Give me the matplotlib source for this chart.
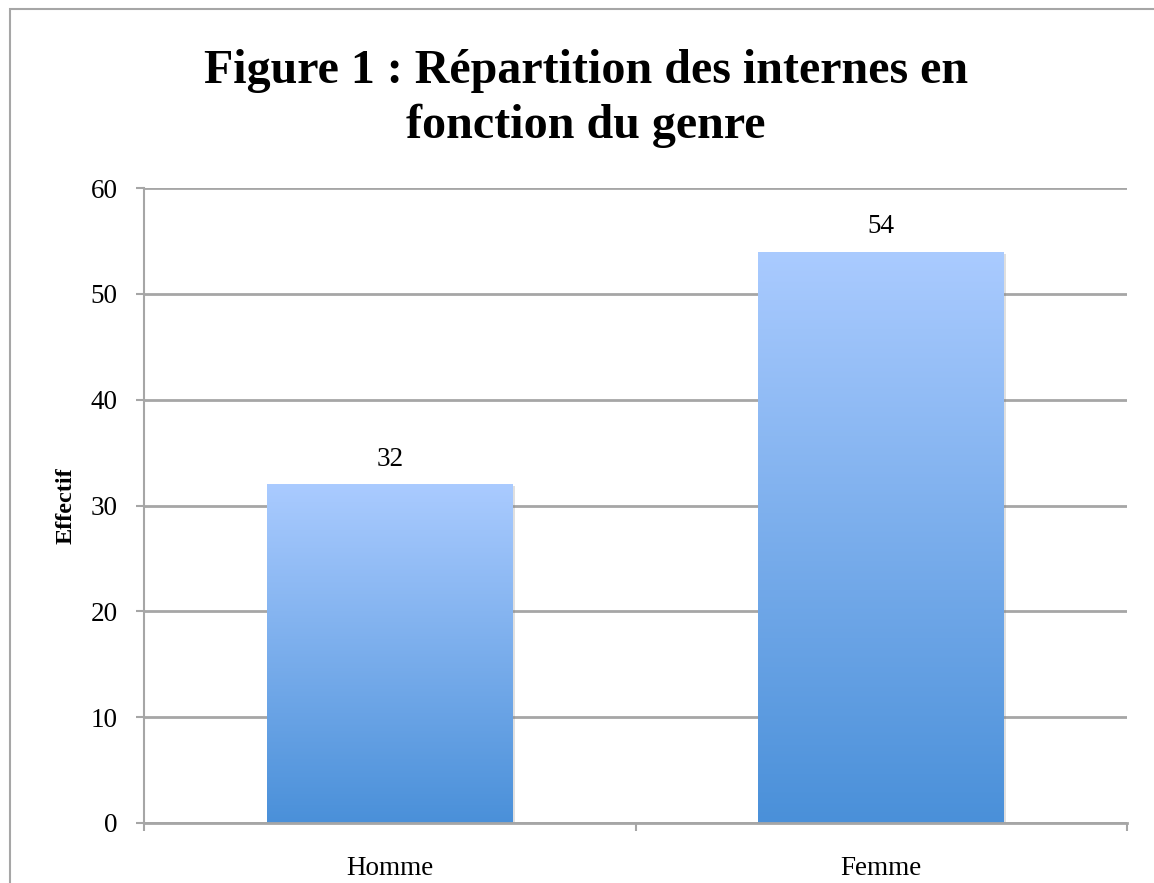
import numpy as np
import matplotlib.pyplot as plt
from matplotlib.patches import Rectangle
from matplotlib.colors import LinearSegmentedColormap
import matplotlib.patheffects as pe

# Data
categories = ["Homme", "Femme"]
values = [32, 54]
y_ticks = [0, 10, 20, 30, 40, 50, 60]

title_line1 = "Figure 1 : Répartition des internes en"
title_line2 = "fonction du genre"
y_label = "Effectif"

grey = "#a6a6a6"
serif = "Liberation Serif"

fig = plt.figure(figsize=(11.54, 8.83), dpi=100)
ax = fig.add_axes([144 / 1154, 60 / 883, (1127 - 144) / 1154, (823 - 188) / 883])

# gradient light blue (top) -> darker blue (bottom)
cmap = LinearSegmentedColormap.from_list("bar", ["#4a90d9", "#aacbff"])
grad = np.linspace(0, 1, 256).reshape(-1, 1)

x = np.arange(len(categories))
bars = ax.bar(x, values, width=0.5, color="#7aaee8", zorder=3,
              path_effects=[pe.SimplePatchShadow(offset=(1.5, -1.5), alpha=0.25, shadow_rgbFace="#808080"),
                            pe.Normal()])
for b in bars:
    x0, y0, w, h = b.get_x(), b.get_y(), b.get_width(), b.get_height()
    im = ax.imshow(grad, cmap=cmap, origin="lower", aspect="auto",
                   extent=[x0, x0 + w, y0, y0 + h], zorder=4)
    im.set_clip_path(b)
    ax.annotate(str(b.get_height()), (x0 + w / 2, y0 + h), xytext=(0, 13),
                textcoords="offset points", ha="center", va="baseline",
                fontsize=19.5, family=serif)

ax.set_xlim(-0.5, len(categories) - 0.5)
ax.set_ylim(0, 60)
ax.set_yticks(y_ticks)
ax.set_xticks(x)
ax.set_xticklabels(categories, family=serif, fontsize=19.5)
ax.set_xticks(np.arange(len(categories) + 1) - 0.5, minor=True)
ax.tick_params(axis="x", which="major", length=0, pad=24)
ax.tick_params(axis="x", which="minor", length=6, width=1.5, color=grey, direction="out")
ax.tick_params(axis="y", length=6, width=1.5, color=grey, pad=13, labelsize=19.5)
for lab in ax.get_yticklabels():
    lab.set_family(serif)

ax.yaxis.grid(True, color=grey, linewidth=2, zorder=0)
ax.set_axisbelow(True)
for s in ["top", "right"]:
    ax.spines[s].set_visible(False)
ax.spines["left"].set_color(grey)
ax.spines["left"].set_linewidth(1.5)
ax.spines["bottom"].set_color(grey)
ax.spines["bottom"].set_linewidth(2)
ax.spines["bottom"].set_zorder(5)

ax.set_ylabel(y_label, family=serif, fontweight="bold", fontsize=17.5, labelpad=10)

fig.text(586 / 1154, 1 - 83 / 883, title_line1, ha="center", va="baseline",
         family=serif, fontweight="bold", fontsize=34.6)
fig.text(586 / 1154, 1 - 138 / 883, title_line2, ha="center", va="baseline",
         family=serif, fontweight="bold", fontsize=34.6)

# chart frame
fig.patches.append(Rectangle((9.5 / 1154, -0.1), 1.2, 1.1 - 9.5 / 883, transform=fig.transFigure,
                             fill=False, edgecolor=grey, linewidth=1.5))

fig.savefig("out.png", dpi=100)
